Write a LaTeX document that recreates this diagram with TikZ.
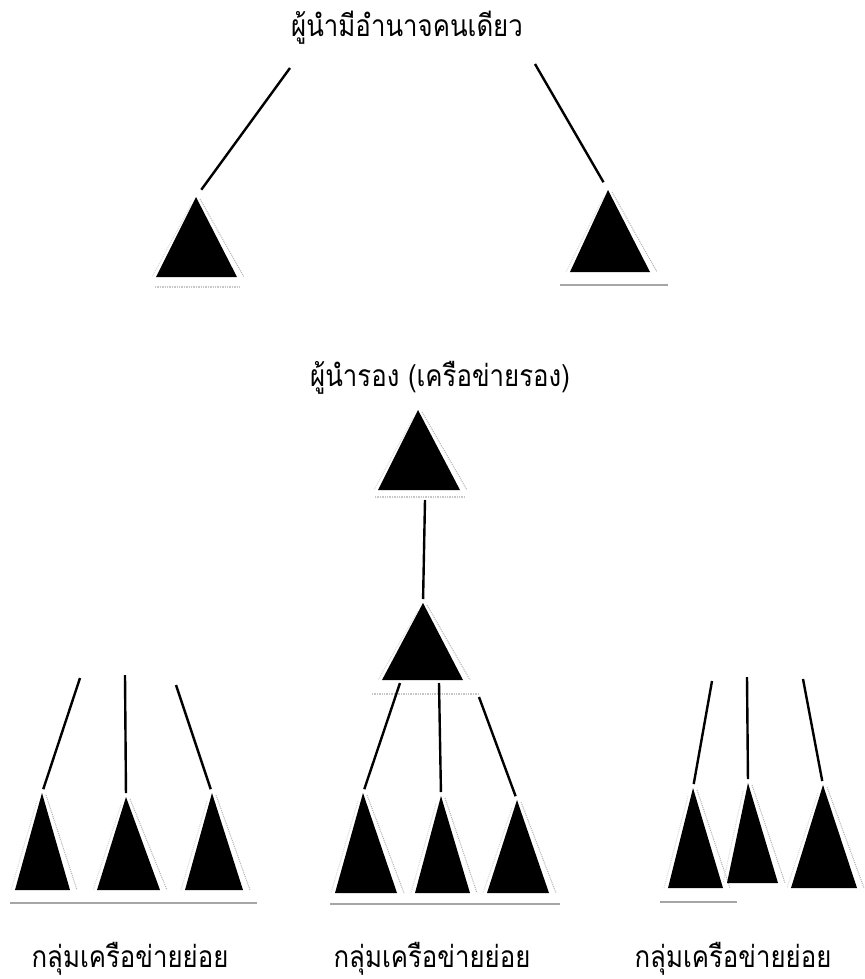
\documentclass[tikz,border=0pt]{standalone}
\usepackage{fontspec}
\newfontfamily\thaifont[Script=Thai, FakeStretch=0.86]{Loma}

% triangle of a network: name, apex x, apex y, left x, right x, base y
\newcommand{\nettri}[6]{%
  \coordinate (#1) at (#2,#3);
  \draw[stipple] ({#2+4},{#3+2}) -- ({#5+7},#6);
  \draw[stipple, gray!30] ({#2-5},{#3+8}) -- ({#4-4},#6);
  \fill[tri] (#1) -- (#4,#6) -- (#5,#6) -- cycle;
}

\begin{document}
\begin{tikzpicture}[x=1pt,y=-1pt,
    tri/.style={fill=black},
    stipple/.style={gray!60, densely dotted, line width=1pt},
    link/.style={line width=2.4pt, shorten >=4pt},
    under/.style={gray!70, line width=1.4pt},
    lbl/.style={font=\thaifont\fontsize{30}{36}\selectfont, anchor=base, inner sep=0pt}]
  \useasboundingbox (0,0) rectangle (864,979);

  % ข้อความ
  \node[lbl] (head) at (407,37) {ผู้นำมีอำนาจคนเดียว};
  \node[lbl] (sub) at (440,386) {ผู้นำรอง (เครือข่ายรอง)};
  \node[lbl] (gl) at (130,967) {กลุ่มเครือข่ายย่อย};
  \node[lbl] (gm) at (432,967) {กลุ่มเครือข่ายย่อย};
  \node[lbl] (gr) at (733,967) {กลุ่มเครือข่ายย่อย};

  % ผู้นำ
  \nettri{ta}{196}{197}{156}{237}{277}
  \nettri{tb}{608}{190}{570}{650}{272}
  \draw[under, gray!45, densely dotted] (155,287) -- (240,287);
  \draw[under] (560,285) -- (668,285);
  \coordinate (sa) at (290,68);
  \coordinate (sb) at (535,64);
  \draw[link, shorten >=9pt] (sa) -- (ta);
  \draw[link, shorten >=9pt] (sb) -- (tb);

  % ผู้นำรอง
  \nettri{tc}{418}{410}{378}{460}{490}
  \nettri{td}{423}{603}{382}{463}{680}
  \draw[under, gray!45, densely dotted] (375,497) -- (465,497);
  \draw[under, gray!45, densely dotted] (372,694) -- (478,694);
  \coordinate (sc) at (425,500);
  \draw[link] (sc) -- (td);

  % กลุ่มย่อย
  \foreach \n/\ax/\ay/\lx/\rx/\by/\sx/\sy in {
      l1/42/793/15/70/890/80/678, l2/126/797/97/160/890/125/675,
      l3/212/793/185/243/890/176/685,
      m1/363/793/335/397/893/400/683, m2/441/796/415/470/893/439/683,
      m3/517/800/487/549/893/479/697,
      r1/693/788/668/723/888/712/681, r2/748/783/727/778/883/747/677,
      r3/823/785/791/857/888/803/679} {
    \nettri{\n}{\ax}{\ay}{\lx}{\rx}{\by}
    \coordinate (s\n) at (\sx,\sy);
    \draw[link] (s\n) -- (\n);
  }
  \draw[under] (10,903) -- (257,903);
  \draw[under] (330,904) -- (560,904);
  \draw[under] (660,902) -- (737,902);
\end{tikzpicture}
\end{document}
